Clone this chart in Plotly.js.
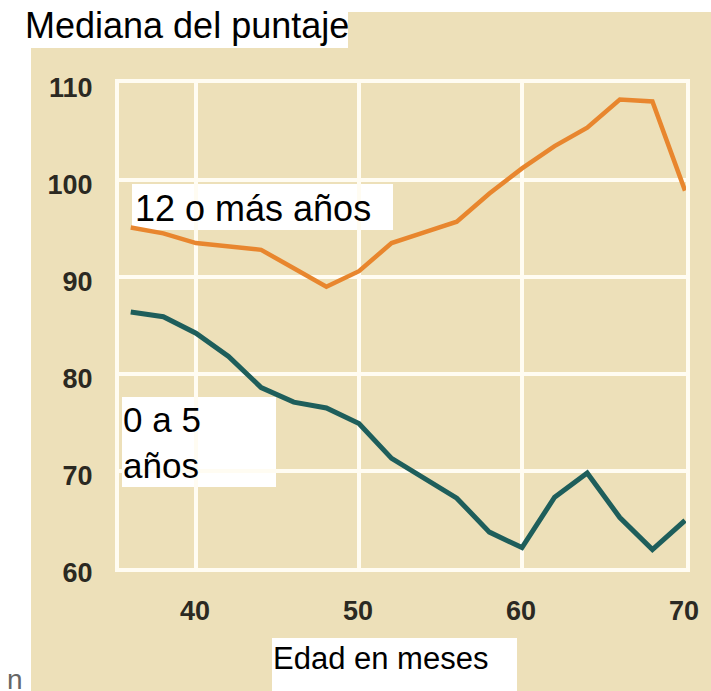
<!DOCTYPE html>
<html>
<head>
<meta charset="utf-8">
<script src="https://cdn.plot.ly/plotly-3.0.1.min.js"></script>
<style>html,body{margin:0;padding:0;background:#fff;}#chart{width:711px;height:691px;}</style>
</head>
<body>
<div id="chart"></div>
<script>
// Data
const months = [36, 38, 40, 42, 44, 46, 48, 50, 52, 54, 56, 58, 60, 62, 64, 66, 68, 70];
const seriesHigh = [95.1, 94.5, 93.5, 93.2, 92.8, 90.9, 89.0, 90.6, 93.5, 94.6, 95.7, 98.6, 101.2, 103.5, 105.4, 108.3, 108.1, 98.9];
const seriesLow  = [86.4, 85.9, 84.2, 81.8, 78.6, 77.1, 76.5, 74.9, 71.3, 69.2, 67.2, 63.7, 62.1, 67.3, 69.8, 65.2, 61.9, 64.9];
const nameHigh = "12 o más años";
const nameLow = "0 a 5<br>años";
const xTicks = [40, 50, 60, 70];
const yTicks = [60, 70, 80, 90, 100, 110];
const chartTitle = "Mediana del puntaje";
const xTitle = "Edad en meses";

const W = 711, H = 691;
const L = 119, R = 686, T = 83, B = 568;
const px = v => (v - L) / (R - L);
const py = v => (B - v) / (B - T);

const beige = "#EDE0B9";
const grid = "#FFFCF2";
const tickFont = {family: "Liberation Sans, Arial, sans-serif", size: 27, color: "#2B2922", weight: "bold"};
const labelFont = {family: "Liberation Sans, Arial, sans-serif", color: "#000"};

const traces = [
  {x: months, y: seriesHigh, type: "scatter", mode: "lines", name: nameHigh,
   line: {color: "#E8862E", width: 4.5}, hoverinfo: "skip"},
  {x: months, y: seriesLow, type: "scatter", mode: "lines", name: nameLow,
   line: {color: "#1E5E5B", width: 5}, hoverinfo: "skip"}
];

function rect(x0, y0, x1, y1, color) {
  return {type: "rect", xref: "paper", yref: "paper", x0: px(x0), x1: px(x1), y0: py(y1), y1: py(y0),
          fillcolor: color, line: {width: 0}, layer: "below"};
}
function ann(text, x, y, size, extra) {
  return Object.assign({text: text, xref: "paper", yref: "paper", x: px(x), y: py(y),
    xanchor: "left", yanchor: "middle", showarrow: false, borderpad: 0,
    font: Object.assign({}, labelFont, {size: size}), align: "left"}, extra || {});
}

const layout = {
  width: W, height: H,
  margin: {l: L, r: W - R, t: T, b: H - B, pad: 0},
  paper_bgcolor: beige,
  plot_bgcolor: beige,
  showlegend: false,
  xaxis: {range: [35.28, 70.06], tickvals: xTicks, ticktext: xTicks.map(String),
          showgrid: true, gridcolor: grid, gridwidth: 4, zeroline: false,
          showline: true, mirror: true, linecolor: grid, linewidth: 4,
          ticks: "", ticklabelstandoff: 16, ticklabelshift: -1, tickfont: tickFont, fixedrange: true},
  yaxis: {range: [60, 110], tickvals: yTicks, ticktext: yTicks.map(String),
          showgrid: true, gridcolor: grid, gridwidth: 4, zeroline: false,
          showline: true, mirror: true, linecolor: grid, linewidth: 4,
          ticks: "", ticklabelstandoff: 17, ticklabelshift: 5, tickfont: tickFont, fixedrange: true},
  shapes: [
    rect(0, 0, 31, H, "#FFFFFF"),
    rect(0, 0, W, 12, "#FFFFFF"),
    rect(0, 0, 348, 48, "#FFFFFF"),
    rect(132, 184, 393, 230, "#FFFFFF"),
    rect(122, 397, 276, 487, "#FFFFFF"),
    rect(272, 638, 517, 691, "#FFFFFF")
  ],
  annotations: [
    ann(chartTitle, 24, 26, 36),
    ann("12 o más años", 134, 208, 36),
    ann(nameLow, 122, 442, 35),
    ann(xTitle, 272, 658, 31),
    ann("n", 6, 679, 28, {font: {family: "Liberation Sans, Arial, sans-serif", size: 28, color: "#666"}})
  ]
};

Plotly.newPlot("chart", traces, layout, {displayModeBar: false, staticPlot: true});
</script>
</body>
</html>
